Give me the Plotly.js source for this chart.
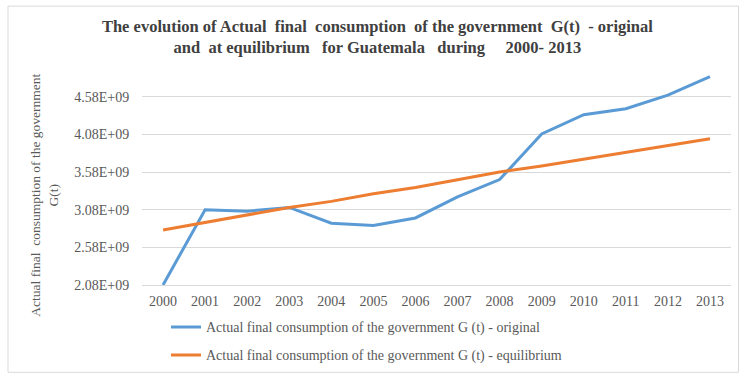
<!DOCTYPE html>
<html>
<head>
<meta charset="utf-8">
<script src="https://cdn.plot.ly/plotly-3.0.1.min.js"></script>
<style>
html,body{margin:0;padding:0;background:#fff;}
#chart{width:740px;height:377px;}
</style>
</head>
<body>
<div id="chart"></div>
<script>
const years = ['2000','2001','2002','2003','2004','2005','2006','2007','2008','2009','2010','2011','2012','2013'];
const original = [2.08e9, 3.08e9, 3.06e9, 3.11e9, 2.90e9, 2.87e9, 2.97e9, 3.25e9, 3.48e9, 4.085e9, 4.34e9, 4.42e9, 4.60e9, 4.845e9];
const equilibrium = [2.81e9, 2.91e9, 3.01e9, 3.11e9, 3.19e9, 3.29e9, 3.375e9, 3.48e9, 3.58e9, 3.66e9, 3.75e9, 3.84e9, 3.93e9, 4.02e9];
const yTickVals = [2.08e9, 2.58e9, 3.08e9, 3.58e9, 4.08e9, 4.58e9];
const yTickText = ['2.08E+09', '2.58E+09', '3.08E+09', '3.58E+09', '4.08E+09', '4.58E+09'];
const seriesNames = ['Actual final consumption of the government G (t) - original',
                     'Actual final consumption of the government G (t) - equilibrium'];

const serif = '"Liberation Serif"';
const traces = [
  {x: years, y: original, type: 'scatter', mode: 'lines', name: seriesNames[0],
   line: {color: '#5B9BD5', width: 3}, legend: 'legend'},
  {x: years, y: equilibrium, type: 'scatter', mode: 'lines', name: seriesNames[1],
   line: {color: '#ED7D31', width: 3}, legend: 'legend2'}
];

const legendCommon = {
  x: (166 - 142) / 589, xanchor: 'left', xref: 'paper', yanchor: 'middle', yref: 'paper',
  font: {family: serif, size: 14, color: '#595959'},
  bgcolor: 'rgba(0,0,0,0)', itemwidth: 30
};

const layout = {
  width: 740, height: 377,
  margin: {l: 142, r: 9, t: 59, b: 91.5, autoexpand: false},
  paper_bgcolor: '#fff', plot_bgcolor: '#fff',
  font: {family: serif, size: 13, color: '#595959'},
  title: {
    text: '<b>The evolution of Actual&nbsp; final&nbsp; consumption&nbsp; of the government&nbsp; G(t)&nbsp; - original</b><br><b>and&nbsp; at equilibrium&nbsp;&nbsp; for Guatemala&nbsp;&nbsp; during&nbsp;&nbsp;&nbsp;&nbsp; 2000- 2013</b>',
    font: {family: serif, size: 16.5, color: '#404040'},
    x: 0.51, xanchor: 'center', xref: 'container',
    y: 0.915, yanchor: 'top', yref: 'container'
  },
  xaxis: {
    type: 'category', range: [-0.5, 13.5],
    showgrid: false, showline: true, linecolor: '#d9d9d9', linewidth: 1,
    ticks: '', ticklabelstandoff: 3,
    tickfont: {family: serif, size: 14, color: '#595959'},
    fixedrange: true
  },
  yaxis: {
    range: [2.08e9, 5.08e9],
    tickvals: yTickVals, ticktext: yTickText,
    showgrid: true, gridcolor: '#d9d9d9', gridwidth: 1,
    showline: false, zeroline: false,
    ticks: 'outside', ticklen: 9, tickcolor: 'rgba(0,0,0,0)',
    tickfont: {family: serif, size: 14, color: '#595959'},
    fixedrange: true
  },
  showlegend: true,
  legend: Object.assign({}, legendCommon, {y: (285.5 - 328) / 226.5}),
  legend2: Object.assign({}, legendCommon, {y: (285.5 - 356) / 226.5}),
  annotations: [{
    text: 'Actual final&nbsp; consumption of the government<br>G(t)',
    textangle: -90, showarrow: false,
    xref: 'paper', yref: 'paper',
    x: (45 - 142) / 589, y: (285.5 - 196) / 226.5,
    xanchor: 'center', yanchor: 'middle',
    font: {family: serif, size: 13.5, color: '#595959'}
  }],
  shapes: [{
    type: 'rect', xref: 'paper', yref: 'paper',
    x0: (8 - 142) / 589, x1: (738.5 - 142) / 589,
    y0: (285.5 - 373) / 226.5, y1: (285.5 - 6) / 226.5,
    line: {color: '#d9d9d9', width: 1}, fillcolor: 'rgba(0,0,0,0)', layer: 'below'
  }]
};

Plotly.newPlot('chart', traces, layout, {displayModeBar: false, staticPlot: true});
</script>
</body>
</html>
